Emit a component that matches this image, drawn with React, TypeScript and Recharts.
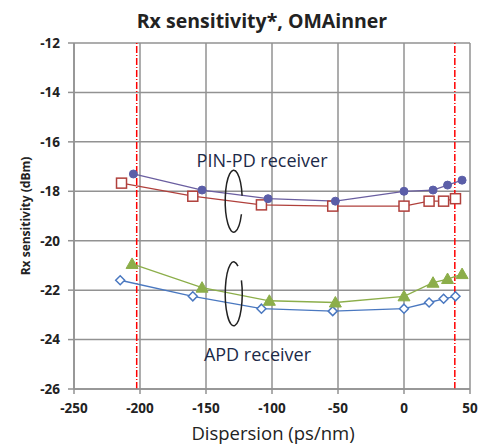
import React from "react";
import { LineChart, Line, XAxis, YAxis, CartesianGrid, ReferenceLine, ReferenceDot } from "recharts";

const xTicks = [-250, -200, -150, -100, -50, 0, 50];
const yTicks = [-26, -24, -22, -20, -18, -16, -14, -12];

const pinCircleX = [-205, -153, -103, -52, 0, 22, 33, 44];
const pinCircleY = [-17.3, -17.95, -18.3, -18.4, -18.0, -17.95, -17.75, -17.55];
const pinSquareX = [-214, -160, -108, -54, 0, 19, 30, 39];
const pinSquareY = [-17.67, -18.2, -18.55, -18.6, -18.6, -18.4, -18.4, -18.3];
const apdTriX = [-206, -153, -102, -52, 0, 22, 33, 44];
const apdTriY = [-20.94, -21.9, -22.43, -22.5, -22.25, -21.7, -21.55, -21.35];
const apdDiaX = [-215, -160, -108, -54, 0, 19, 30, 39];
const apdDiaY = [-21.6, -22.25, -22.75, -22.85, -22.75, -22.5, -22.35, -22.25];

const limits = [-202.5, 38.5];

const zip = (xs: number[], ys: number[]) => xs.map((x, i) => ({ x, y: ys[i] }));
const circleData = zip(pinCircleX, pinCircleY);
const squareData = zip(pinSquareX, pinSquareY);
const triData = zip(apdTriX, apdTriY);
const diaData = zip(apdDiaX, apdDiaY);

const FONT = "'Open Sans', 'Noto Sans', sans-serif";

const CircleDot = (p: any) => <circle key={p.index} cx={p.cx} cy={p.cy} r={4} fill="#5b5ea8" stroke="#5b5ea8" />;
const SquareDot = (p: any) => (
  <rect key={p.index} x={p.cx - 5} y={p.cy - 5} width={10} height={10} fill="#fff" stroke="#b0403c" strokeWidth={1.5} />
);
const TriDot = (p: any) => (
  <path key={p.index} d={`M${p.cx},${p.cy - 6} L${p.cx + 6},${p.cy + 4.5} L${p.cx - 6},${p.cy + 4.5} Z`} fill="#8cae4a" stroke="#8cae4a" />
);
const DiaDot = (p: any) => (
  <path key={p.index} d={`M${p.cx},${p.cy - 4.5} L${p.cx + 4.5},${p.cy} L${p.cx},${p.cy + 4.5} L${p.cx - 4.5},${p.cy} Z`} fill="#fff" stroke="#4a78c0" strokeWidth={1.5} />
);

const arcPath = (cx: number, cy: number, rx: number, ry: number, a0: number, a1: number) => {
  const r = (d: number) => (d * Math.PI) / 180;
  const sx = cx + rx * Math.cos(r(a0));
  const sy = cy + ry * Math.sin(r(a0));
  const ex = cx + rx * Math.cos(r(a1));
  const ey = cy + ry * Math.sin(r(a1));
  return `M${sx},${sy} A${rx},${ry} 0 1 1 ${ex},${ey}`;
};

const PinLoop = (p: any) => (
  <path d={arcPath(p.cx, p.cy, 8.5, 31, 25, 350)} fill="none" stroke="#222" strokeWidth={1.5} />
);
const ApdLoop = (p: any) => (
  <path d={arcPath(p.cx, p.cy, 8.5, 32, -25, 300)} fill="none" stroke="#222" strokeWidth={1.5} />
);
const TextShape = (label: string) => (p: any) => (
  <text x={p.cx} y={p.cy} textAnchor="middle" dominantBaseline="central" fontFamily={FONT} fontSize={18} fill="#1c2a48">
    {label}
  </text>
);

export default function App() {
  return (
    <div style={{ position: "absolute", left: 0, top: 0, width: 481, height: 445, background: "#fff" }}>
      <svg width={481} height={445} style={{ position: "absolute", left: 0, top: 0, pointerEvents: "none" }}>
        <text x={262} y={20} textAnchor="middle" dominantBaseline="central" fontFamily={FONT} fontWeight="bold" fontSize={19.5} fill="#222">
          Rx sensitivity*, OMAinner
        </text>
        <text x={273} y={432} textAnchor="middle" dominantBaseline="central" fontFamily={FONT} fontSize={18.5} fill="#222">
          Dispersion (ps/nm)
        </text>
        <text x={25} y={216} textAnchor="middle" dominantBaseline="central" fontFamily={FONT} fontWeight={700} fontSize={12} fill="#222" transform="rotate(-90 25 216)">
          Rx sensitivity (dBm)
        </text>
      </svg>
      <LineChart width={481} height={445} margin={{ top: 43, right: 11, bottom: 0, left: 40 }} style={{ position: "absolute", left: 0, top: 0 }}>
        <CartesianGrid stroke="#929292" strokeWidth={1.5} />
        <XAxis
          type="number"
          dataKey="x"
          domain={[-250, 50]}
          ticks={xTicks}
          interval={0}
          height={56}
          tickSize={5}
          tickMargin={9}
          stroke="#929292"
          strokeWidth={1.5}
          tick={{ fill: "#222", fontSize: 13.5, fontWeight: 700, fontFamily: FONT }}
          allowDataOverflow
        />
        <YAxis
          type="number"
          dataKey="y"
          domain={[-26, -12]}
          ticks={yTicks}
          interval={0}
          width={34}
          tickSize={6}
          tickMargin={8}
          stroke="#929292"
          strokeWidth={1.5}
          tick={{ fill: "#222", fontSize: 13.5, fontWeight: 700, fontFamily: FONT }}
          allowDataOverflow
        />
        {limits.map((v) => (
          <ReferenceLine key={v} x={v} stroke="#ff0000" strokeWidth={1.5} strokeDasharray="7 2 1 2" />
        ))}
        <Line data={squareData} dataKey="y" stroke="#b0403c" strokeWidth={1.3} dot={SquareDot} isAnimationActive={false} />
        <Line data={circleData} dataKey="y" stroke="#6a5ea0" strokeWidth={1.3} dot={CircleDot} isAnimationActive={false} />
        <Line data={diaData} dataKey="y" stroke="#4a78c0" strokeWidth={1.3} dot={DiaDot} isAnimationActive={false} />
        <Line data={triData} dataKey="y" stroke="#8cae4a" strokeWidth={1.3} dot={TriDot} isAnimationActive={false} />
        <ReferenceDot x={-129} y={-18.4} shape={PinLoop} />
        <ReferenceDot x={-129} y={-22.15} shape={ApdLoop} />
        <ReferenceDot x={-107.5} y={-16.72} shape={TextShape("PIN-PD receiver")} />
        <ReferenceDot x={-111} y={-24.6} shape={TextShape("APD receiver")} />
      </LineChart>
    </div>
  );
}
